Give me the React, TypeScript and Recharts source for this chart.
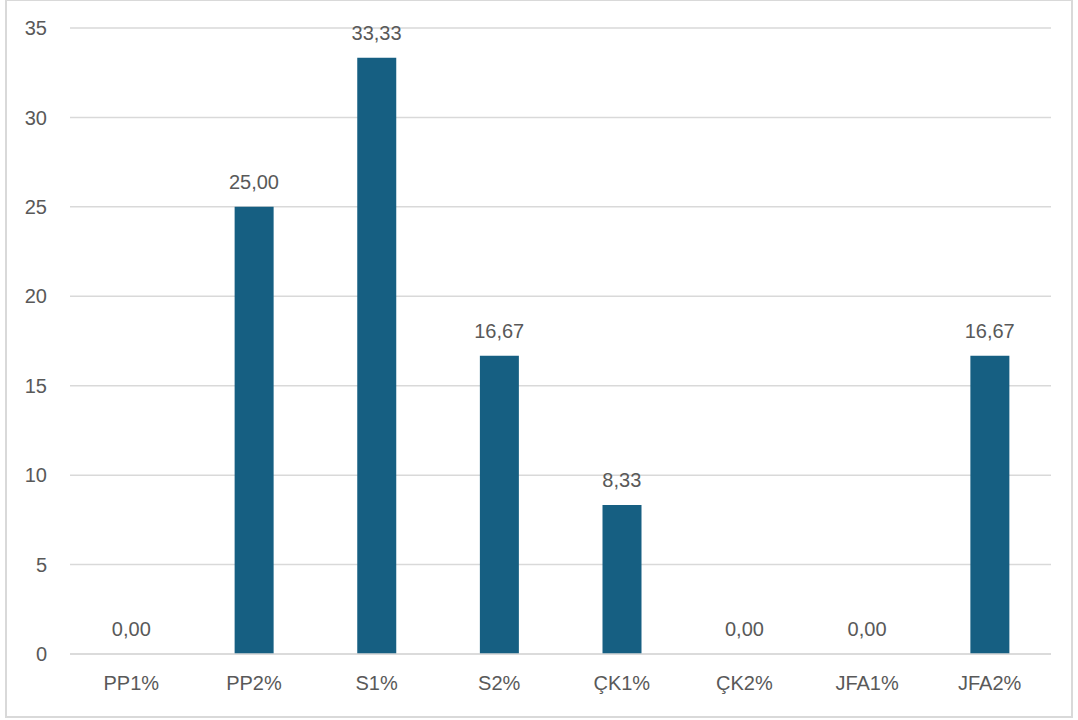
import { ComposedChart, Bar, Line, XAxis, YAxis, CartesianGrid, LabelList } from "recharts"

const categories = ["PP1%", "PP2%", "S1%", "S2%", "ÇK1%", "ÇK2%", "JFA1%", "JFA2%"]
const values = [0, 25, 33.33, 16.67, 8.33, 0, 0, 16.67]
const yTicks = [0, 5, 10, 15, 20, 25, 30, 35]

const data = categories.map((name, i) => ({ name, value: values[i] }))

const textColor = "#595959"
const gridColor = "#d9d9d9"
const barColor = "#165f82"
const fontFamily = "'Liberation Sans', Arial, sans-serif"
const fontSize = 20

// Turkish style decimal comma
const formatLabel = (v: any) => Number(v).toFixed(2).replace(".", ",")

export default function App() {
  return (
    <div style={{ position: "fixed", left: 0, top: 0, width: 1078, height: 720, background: "#fff", fontFamily }}>
      <div
        style={{
          position: "absolute",
          left: 5,
          top: -1,
          width: 1068,
          height: 719,
          border: `2px solid ${gridColor}`,
          boxSizing: "border-box",
        }}
      />
      <div style={{ position: "absolute", left: 0, top: 0 }}>
        <ComposedChart
          width={1078}
          height={720}
          data={data}
          margin={{ top: 28, right: 27, bottom: 36, left: 0 }}
        >
          <CartesianGrid vertical={false} stroke={gridColor} strokeWidth={1.5} />
          <XAxis
            dataKey="name"
            height={30}
            tickLine={false}
            axisLine={{ stroke: gridColor, strokeWidth: 1.5 }}
            tickMargin={16}
            tick={{ fill: textColor, fontSize, fontFamily }}
          />
          <YAxis
            width={70}
            domain={[0, 35]}
            ticks={yTicks}
            interval={0}
            tickLine={false}
            axisLine={false}
            tickMargin={17}
            tick={{ fill: textColor, fontSize, fontFamily }}
          />
          <Bar dataKey="value" fill={barColor} barSize={39} isAnimationActive={false} />
          {/* invisible series carrying the value labels, so zero values get labels too */}
          <Line
            dataKey="value"
            stroke="none"
            dot={false}
            activeDot={false}
            legendType="none"
            isAnimationActive={false}
          >
            <LabelList
              dataKey="value"
              position="top"
              offset={18}
              formatter={formatLabel}
              style={{ fill: textColor, fontSize, fontFamily }}
            />
          </Line>
        </ComposedChart>
      </div>
    </div>
  )
}
